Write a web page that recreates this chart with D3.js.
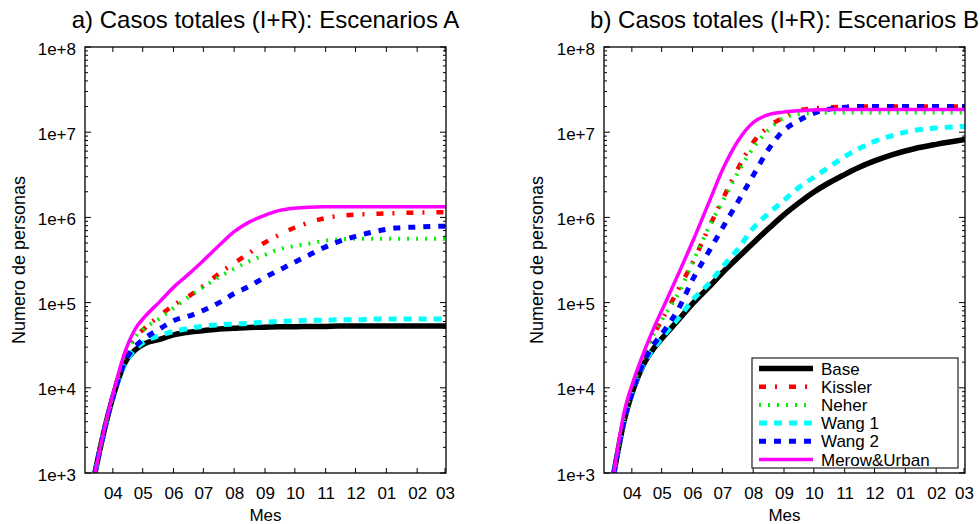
<!DOCTYPE html>
<html><head><meta charset="utf-8">
<script src="https://cdn.jsdelivr.net/npm/d3@7/dist/d3.min.js"></script>
<style>
body{margin:0;background:#fff}
text{font-family:"Liberation Sans",Arial,Helvetica,sans-serif;fill:#000}
</style>
</head><body>
<svg id="c" width="980" height="524"></svg>
<script>
// ---------------- data ----------------
const seriesNames = ["Base","Kissler","Neher","Wang 1","Wang 2","Merow&Urban"];
const monthTickDates = ["2020-04-01","2020-05-01","2020-06-01","2020-07-01","2020-08-01","2020-09-01","2020-10-01","2020-11-01","2020-12-01","2021-01-01","2021-02-01","2021-03-01"];
const monthTickLabels = ["04","05","06","07","08","09","10","11","12","01","02","03"];
const yTickValues = [1e3,1e4,1e5,1e6,1e7,1e8];
const yTickLabels = ["1e+3","1e+4","1e+5","1e+6","1e+7","1e+8"];
const titles = ["a) Casos totales (I+R): Escenarios A","b) Casos totales (I+R): Escenarios B"];
const dates = ["2020-03-14","2020-03-24","2020-04-03","2020-04-13","2020-04-23","2020-05-03","2020-05-18","2020-06-02","2020-06-17","2020-07-02","2020-07-17","2020-08-01","2020-08-16","2020-08-31","2020-09-15","2020-09-30","2020-10-15","2020-10-30","2020-11-14","2020-12-01","2020-12-20","2021-01-10","2021-02-01","2021-03-02"];

// Escenarios A
const baseA    = [1e3,3.4e3,9.3e3,1.95e4,2.75e4,3.3e4,3.7e4,4.2e4,4.5e4,4.7e4,4.9e4,5.0e4,5.1e4,5.15e4,5.2e4,5.2e4,5.25e4,5.25e4,5.3e4,5.3e4,5.3e4,5.3e4,5.3e4,5.3e4];
const kisslerA = [1e3,3.5e3,9.8e3,2.4e4,3.8e4,5.0e4,7.0e4,9.5e4,1.2e5,1.6e5,2.2e5,2.9e5,3.8e5,5.0e5,6.2e5,7.5e5,8.7e5,9.7e5,1.04e6,1.08e6,1.1e6,1.12e6,1.14e6,1.15e6];
const neherA   = [1e3,3.5e3,9.8e3,2.4e4,3.9e4,5.0e4,6.5e4,8.8e4,1.18e5,1.55e5,2.0e5,2.5e5,3.05e5,3.6e5,4.2e5,4.6e5,4.9e5,5.3e5,5.5e5,5.6e5,5.6e5,5.6e5,5.6e5,5.6e5];
const wang1A   = [1e3,3.4e3,9.3e3,1.9e4,2.8e4,3.5e4,4.1e4,4.6e4,5.0e4,5.3e4,5.5e4,5.6e4,5.7e4,5.9e4,6.0e4,6.1e4,6.2e4,6.2e4,6.3e4,6.3e4,6.4e4,6.4e4,6.4e4,6.4e4];
const wang2A   = [1e3,3.4e3,9.3e3,2.0e4,3.0e4,3.8e4,4.9e4,6.2e4,7.0e4,8.2e4,1.0e5,1.28e5,1.55e5,1.95e5,2.4e5,2.95e5,3.6e5,4.4e5,5.2e5,6.0e5,6.8e5,7.5e5,7.7e5,7.9e5];
const merowA   = [1e3,3.5e3,1.02e4,2.6e4,4.8e4,6.8e4,1.02e5,1.55e5,2.2e5,3.2e5,4.7e5,6.8e5,8.8e5,1.05e6,1.2e6,1.28e6,1.32e6,1.33e6,1.33e6,1.33e6,1.33e6,1.33e6,1.33e6,1.33e6];

// Escenarios B
const baseB    = [1e3,4.0e3,1.0e4,1.9e4,2.9e4,4.0e4,6.3e4,1.0e5,1.5e5,2.3e5,3.4e5,5.0e5,7.3e5,1.05e6,1.45e6,1.95e6,2.5e6,3.1e6,3.8e6,4.6e6,5.5e6,6.4e6,7.2e6,8.2e6];
const kisslerB = [1e3,4.3e3,1.1e4,2.3e4,4.2e4,6.8e4,1.45e5,3.1e5,7.4e5,1.7e6,3.8e6,7.6e6,1.15e7,1.48e7,1.78e7,1.9e7,1.95e7,1.98e7,2.0e7,2.0e7,2.0e7,2.0e7,2.0e7,2.0e7];
const neherB   = [1e3,4.3e3,1.1e4,2.4e4,4.3e4,6.8e4,1.3e5,3.1e5,7.5e5,1.6e6,3.4e6,6.5e6,1.05e7,1.45e7,1.62e7,1.68e7,1.7e7,1.7e7,1.7e7,1.7e7,1.7e7,1.7e7,1.7e7,1.7e7];
const wang1B   = [1e3,4.0e3,1.0e4,1.9e4,2.9e4,4.1e4,6.6e4,1.1e5,1.65e5,2.7e5,4.3e5,7.5e5,1.1e6,1.55e6,2.2e6,2.9e6,3.8e6,5.0e6,6.3e6,7.8e6,9.2e6,1.05e7,1.12e7,1.17e7];
const wang2B   = [1e3,4.0e3,1.0e4,2.0e4,3.2e4,4.6e4,8.5e4,1.95e5,3.9e5,7.8e5,1.55e6,3.1e6,6.2e6,1.03e7,1.35e7,1.65e7,1.85e7,1.95e7,2.0e7,2.0e7,2.0e7,2.0e7,2.0e7,2.0e7];
const merowB   = [1e3,5.0e3,1.25e4,2.6e4,5.0e4,9.0e4,2.2e5,5.5e5,1.45e6,3.8e6,8.0e6,1.3e7,1.6e7,1.72e7,1.78e7,1.82e7,1.85e7,1.85e7,1.85e7,1.85e7,1.85e7,1.85e7,1.85e7,1.85e7];

// ---------------- styles ----------------
const styles = [
  {color:"#000000", width:5.5, dash:null},
  {color:"#ff0000", width:4.5, dash:"7,9,2,12"},
  {color:"#00f000", width:4, dash:"2,7"},
  {color:"#00ffff", width:5, dash:"8,7"},
  {color:"#0000ff", width:5, dash:"7,8"},
  {color:"#ff00ff", width:3.5, dash:null}
];

const svg = d3.select("#c");
const parse = d3.utcParse("%Y-%m-%d");
const dateObjs = dates.map(parse);
const domainX = [parse("2020-03-04"), parse("2021-03-02")];
const plotTop = 47, plotBottom = 473;

function panel(idx, left, right, seriesData, showLegend, ylabelX) {
  const g = svg.append("g");
  const x = d3.scaleUtc().domain(domainX).range([left, right]);
  const y = d3.scaleLog().domain([1e3, 1e8]).range([plotBottom, plotTop]);

  const clipId = "clip" + idx;
  svg.append("clipPath").attr("id", clipId).append("rect")
    .attr("x", left).attr("y", plotTop).attr("width", right - left).attr("height", plotBottom - plotTop);

  const line = d3.line().x(d => x(d[0])).y(d => y(d[1])).curve(d3.curveMonotoneX);
  const lg = g.append("g").attr("clip-path", `url(#${clipId})`);
  seriesData.forEach((vals, i) => {
    const st = styles[i];
    lg.append("path")
      .datum(vals.map((v, j) => [dateObjs[j], v]))
      .attr("d", line)
      .attr("fill", "none")
      .attr("stroke", st.color)
      .attr("stroke-width", st.width)
      .attr("stroke-dasharray", st.dash)
      .attr("stroke-linejoin", "round");
  });

  const minors = [];
  for (let e = 3; e < 8; e++) for (let m = 2; m <= 9; m++) minors.push(m * Math.pow(10, e));
  const tg = g.append("g").attr("stroke", "#000").attr("stroke-width", 1);
  minors.forEach(v => {
    tg.append("line").attr("x1", left).attr("x2", left + 3).attr("y1", y(v)).attr("y2", y(v));
    tg.append("line").attr("x1", right).attr("x2", right - 3).attr("y1", y(v)).attr("y2", y(v));
  });
  yTickValues.forEach(v => {
    tg.append("line").attr("x1", left).attr("x2", left + 6).attr("y1", y(v)).attr("y2", y(v));
    tg.append("line").attr("x1", right).attr("x2", right - 6).attr("y1", y(v)).attr("y2", y(v));
  });
  monthTickDates.forEach(s => {
    const xv = x(parse(s));
    tg.append("line").attr("x1", xv).attr("x2", xv).attr("y1", plotBottom).attr("y2", plotBottom - 5);
    tg.append("line").attr("x1", xv).attr("x2", xv).attr("y1", plotTop).attr("y2", plotTop + 5);
  });

  const yAxis = d3.axisLeft(y).tickValues(yTickValues)
    .tickFormat((d, i) => yTickLabels[i]).tickSize(0).tickPadding(9);
  const ya = g.append("g").attr("transform", `translate(${left},0)`).call(yAxis);
  ya.select(".domain").remove();
  ya.selectAll("text").attr("font-size", 17).attr("dy", "0.42em")
    .attr("font-family", '"Liberation Sans",Arial,sans-serif');

  const xAxis = d3.axisBottom(x).tickValues(monthTickDates.map(parse))
    .tickFormat((d, i) => monthTickLabels[i]).tickSize(0).tickPadding(14);
  const xa = g.append("g").attr("transform", `translate(0,${plotBottom})`).call(xAxis);
  xa.select(".domain").remove();
  xa.selectAll("text").attr("font-size", 17)
    .attr("font-family", '"Liberation Sans",Arial,sans-serif');

  g.append("rect").attr("x", left).attr("y", plotTop).attr("width", right - left).attr("height", plotBottom - plotTop)
    .attr("fill", "none").attr("stroke", "#000").attr("stroke-width", 1.3);

  g.append("text").attr("x", (left + right) / 2).attr("y", 28).attr("text-anchor", "middle")
    .attr("font-size", 24).text(titles[idx]);
  g.append("text").attr("x", (left + right) / 2).attr("y", 521).attr("text-anchor", "middle")
    .attr("font-size", 17).text("Mes");
  g.append("text").attr("transform", `translate(${ylabelX},${(plotTop + plotBottom) / 2}) rotate(-90)`)
    .attr("text-anchor", "middle").attr("font-size", 18).text("Numero de personas");

  if (showLegend) {
    const lx = 752, ly = 358, lw = 206, lh = 110;
    const leg = g.append("g");
    leg.append("rect").attr("x", lx).attr("y", ly).attr("width", lw).attr("height", lh)
      .attr("fill", "#fff").attr("stroke", "#222").attr("stroke-width", 1.2);
    seriesNames.forEach((name, i) => {
      const yy = ly + 10.5 + i * 18.2;
      const st = styles[i];
      leg.append("line").attr("x1", lx + 7).attr("x2", lx + 61).attr("y1", yy).attr("y2", yy)
        .attr("stroke", st.color).attr("stroke-width", st.width).attr("stroke-dasharray", st.dash);
      leg.append("text").attr("x", lx + 69).attr("y", yy).attr("dy", "0.36em")
        .attr("font-size", 17).text(name);
    });
  }
}

panel(0, 85, 446, [baseA, kisslerA, neherA, wang1A, wang2A, merowA], false, 25);
panel(1, 604, 965, [baseB, kisslerB, neherB, wang1B, wang2B, merowB], true, 543);
</script>
</body></html>
